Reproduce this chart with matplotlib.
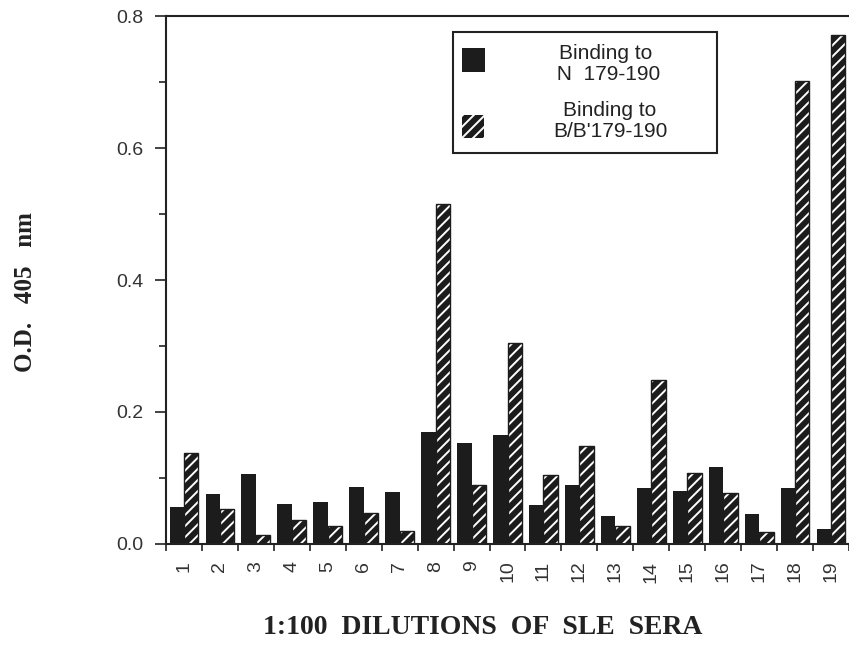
import numpy as np
import matplotlib
matplotlib.use("Agg")
import matplotlib.pyplot as plt
from matplotlib.patches import Rectangle

sera = [str(i) for i in range(1, 20)]
n_binding = [0.056, 0.076, 0.106, 0.060, 0.064, 0.087, 0.079, 0.169, 0.153, 0.165,
             0.059, 0.090, 0.043, 0.085, 0.081, 0.116, 0.046, 0.085, 0.022]
b_binding = [0.138, 0.053, 0.013, 0.037, 0.028, 0.047, 0.019, 0.515, 0.090, 0.305,
             0.105, 0.148, 0.027, 0.249, 0.108, 0.077, 0.018, 0.702, 0.771]
legend_labels = ["Binding to\n N  179-190", "Binding to\nB/B'179-190"]

plt.rcParams['font.family'] = ['Liberation Sans', 'DejaVu Sans']
plt.rcParams['hatch.color'] = 'white'
plt.rcParams['hatch.linewidth'] = 1.4

W, H = 849, 648
fig = plt.figure(figsize=(W / 100, H / 100), dpi=100)
ax = fig.add_axes([166 / W, 104 / H, 683 / W, 528 / H])

x = np.arange(1, len(sera) + 1)
w = 0.4
dark = '#1c1c1c'
ax.bar(x - w / 2, n_binding, w, color=dark, linewidth=0)
ax.bar(x + w / 2, b_binding, w, color=dark, hatch='///', linewidth=0)
ax.bar(x + w / 2, b_binding, w, fill=False, edgecolor=dark, linewidth=1.0)

ax.set_xlim(0.5, 0.5 + 683 / 36.6)
ax.set_ylim(0, 0.8)

# tick marks between groups, labels at the group centres
ax.set_xticks(np.arange(0.5, 20.5, 1.0))
ax.set_xticklabels([])
ax.set_xticks(x, minor=True)
ax.set_xticklabels(sera, minor=True, rotation=90, fontsize=14, color='#333333')
ax.tick_params(axis='x', which='major', direction='out', length=5, width=1.2, color='#222222')
ax.tick_params(axis='x', which='minor', length=0, pad=12)

ax.set_yticks([0.0, 0.2, 0.4, 0.6, 0.8])
ax.set_yticklabels(['0.0', '0.2', '0.4', '0.6', '0.8'], fontsize=14, color='#333333')
ax.set_yticks([0.1, 0.3, 0.5, 0.7], minor=True)
ax.tick_params(axis='y', which='major', direction='out', length=8, width=1.2, color='#222222', pad=8)
ax.tick_params(axis='y', which='minor', direction='out', length=5, width=1.2, color='#222222')

ax.spines['right'].set_visible(False)
for s in ['left', 'bottom', 'top']:
    ax.spines[s].set_linewidth(1.5)
    ax.spines[s].set_color('#222222')

serif = ['Liberation Serif', 'DejaVu Serif']
fig.text(26 / W, 1 - 292 / H, 'O.D.   405   nm', rotation=90, ha='center', va='center',
         fontsize=18, fontweight='bold', family=serif, color='#222222')
fig.text(483 / W, 1 - 628 / H, '1:100  DILUTIONS  OF  SLE  SERA', ha='center', va='center',
         fontsize=20, fontweight='bold', family=serif, color='#222222')

# legend box drawn in figure pixels
def px(x0, y0, x1, y1):
    return (x0 / W, 1 - y1 / H), (x1 - x0) / W, (y1 - y0) / H

xy, bw, bh = px(453, 32, 717, 153)
fig.patches.append(Rectangle(xy, bw, bh, transform=fig.transFigure, fill=False,
                             edgecolor='#222222', linewidth=1.5))
xy, bw, bh = px(462, 48, 485, 72)
fig.patches.append(Rectangle(xy, bw, bh, transform=fig.transFigure, facecolor=dark, linewidth=0))
xy, bw, bh = px(462, 115, 484, 138)
fig.patches.append(Rectangle(xy, bw, bh, transform=fig.transFigure, facecolor=dark,
                             hatch='///', linewidth=0))
fig.text(606 / W, 1 - 64 / H, legend_labels[0], ha='center', va='center', multialignment='center',
         fontsize=15, color='#222222', linespacing=1.15)
fig.text(610 / W, 1 - 121 / H, legend_labels[1], ha='center', va='center', multialignment='center',
         fontsize=15, color='#222222', linespacing=1.15)

fig.savefig('out.png', dpi=100)
